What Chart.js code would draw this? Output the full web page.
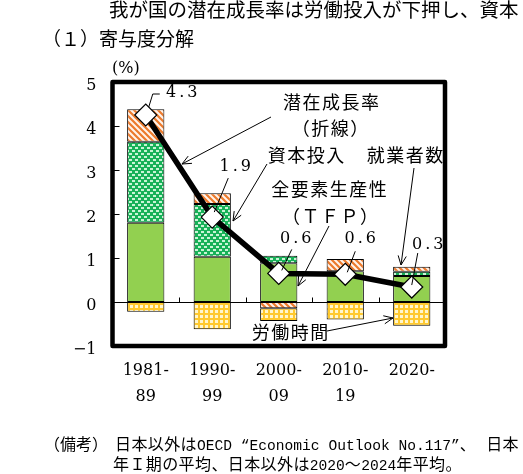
<!DOCTYPE html>
<html><head><meta charset="utf-8">
<script src="https://cdn.jsdelivr.net/npm/chart.js@4.4.1/dist/chart.umd.min.js"></script>
<style>
html,body{margin:0;padding:0;background:#fff;}
#wrap{position:relative;width:523px;height:474px;overflow:hidden;}
#box{position:absolute;left:0;top:0;width:523px;height:474px;}
.t{position:absolute;white-space:nowrap;color:#000;}
.cjk{font-family:"Noto Sans CJK JP";}
.mono{font-family:"Liberation Mono";font-size:14.6px;letter-spacing:0;}
</style></head><body>
<div id="wrap">
<div id="box"><canvas id="cv"></canvas></div>
<div class="t cjk" style="left:109px;top:-1px;font-size:19.5px;line-height:20px;">我が国の潜在成長率は労働投入が下押し、資本</div>
<div class="t cjk" style="left:42px;top:28px;font-size:19px;line-height:20px;">（１）寄与度分解</div>
<div class="t" style="left:112px;top:58px;font-family:'DejaVu Serif';font-size:16px;line-height:20px;">(%)</div>
<div class="t cjk" style="left:44px;top:433px;font-size:16px;line-height:20px;">（備考）</div>
<div class="t cjk" style="left:115px;top:433px;font-size:16px;line-height:20px;letter-spacing:0.4px;">日本以外は<span class="mono">OECD “Economic Outlook No.117”</span>、<span style="margin-left:10px">日本</span></div>
<div class="t cjk" style="left:113px;top:453px;font-size:16px;line-height:20px;letter-spacing:0.4px;">年Ｉ期の平均、日本以外は<span class="mono">2020</span>～<span class="mono">2024</span>年平均。</div>
</div>
<script>
// ---- data ----
const categories = [["1981-","89"],["1990-","99"],["2000-","09"],["2010-","19"],["2020-",""]];
const tfp        = [1.80, 1.03, 0.88, 0.70, 0.59];   // 全要素生産性
const capital    = [1.84, 1.20, 0.17, 0.00, 0.10];   // 資本投入
const employment = [0.74, 0.24, -0.14, 0.28, 0.11];  // 就業者数
const hours      = [-0.22, -0.62, -0.29, -0.40, -0.54]; // 労働時間
const potential  = [4.25, 1.93, 0.65, 0.63, 0.34];   // 潜在成長率
const potentialLabels = ["4.3", "1.9", "0.6", "0.6", "0.3"];
const yTicks = [-1, 0, 1, 2, 3, 4, 5];

// ---- patterns ----
const cv = document.getElementById('cv');
function makePattern(w, h, draw) {
  const c = document.createElement('canvas'); c.width = w; c.height = h;
  const g = c.getContext('2d'); draw(g, w, h);
  return cv.getContext('2d').createPattern(c, 'repeat');
}
const orangeHatch = makePattern(6, 6, (g, w, h) => {
  g.fillStyle = '#FFF3EA'; g.fillRect(0, 0, w, h);
  g.strokeStyle = '#EC7A2C'; g.lineWidth = 2.2; g.beginPath();
  for (const k of [-6, 0, 6]) { g.moveTo(k - 1, -1); g.lineTo(k + 7, 7); }
  g.stroke();
});
const greenDots = makePattern(6, 6, (g, w, h) => {
  g.fillStyle = '#17B158'; g.fillRect(0, 0, w, h);
  g.fillStyle = '#C8F4D5'; g.fillRect(0, 0, 3, 2); g.fillRect(3, 3, 3, 2);
});
const yellowGrid = makePattern(5, 5, (g, w, h) => {
  g.fillStyle = '#FFC92E'; g.fillRect(0, 0, w, h);
  g.fillStyle = '#FFF6CC'; g.fillRect(0, 0, 3, 3);
});

// ---- annotations (layout) ----
const notes = [
  {t: '潜在成長率', x: 331, y: 102},
  {t: '（折線）', x: 330, y: 128},
  {t: '資本投入', x: 306, y: 155},
  {t: '就業者数', x: 405, y: 155},
  {t: '全要素生産性', x: 329, y: 189},
  {t: '（ＴＦＰ）', x: 330, y: 216},
  {t: '労働時間', x: 290, y: 332}
];
const arrows = [
  [[271,117],[182,164]],
  [[267,164],[233,221]],
  [[329,226],[298,286]],
  [[414,168],[401,265]],
  [[327,331],[393,318]]
];
const labelOffsets = [[36,-22],[23,-50],[17,-35],[15,-35],[16,-42]];
const leaders = [
  [[3,-8],[7,-21],[14,-21]],
  [[2,-5],[16,-39]],
  [[3,-3],[13,-24]],
  [[2,-2],[10,-23]],
  [[0,-2],[6,-34]]
];

const decor = {
  id: 'decor',
  beforeDatasetsDraw(chart) {
    const {ctx, chartArea: a, scales: {x, y}} = chart;
    ctx.save(); ctx.strokeStyle = '#000'; ctx.lineWidth = 1;
    const y0 = Math.round(y.getPixelForValue(0)) + 0.5;
    ctx.beginPath();
    ctx.moveTo(a.left, y0); ctx.lineTo(a.right, y0);
    yTicks.forEach(v => {
      if (v > 0 && v < 5) { const py = Math.round(y.getPixelForValue(v)) + 0.5; ctx.moveTo(a.left, py); ctx.lineTo(a.left + 7, py); }
    });
    for (let i = 0; i < categories.length - 1; i++) {
      const xb = Math.round((x.getPixelForValue(i) + x.getPixelForValue(i + 1)) / 2) + 0.5;
      ctx.moveTo(xb, y0); ctx.lineTo(xb, y0 - 5);
    }
    ctx.stroke(); ctx.restore();
  },
  afterDatasetsDraw(chart) {
    const {ctx, chartArea: a} = chart;
    ctx.save(); ctx.strokeStyle = '#000'; ctx.lineWidth = 4.5; ctx.lineJoin = 'round';
    ctx.strokeRect(a.left, a.top, a.right - a.left, a.bottom - a.top);
    ctx.restore();
  },
  afterDraw(chart) {
    const {ctx, scales: {x, y}} = chart;
    ctx.save();
    ctx.fillStyle = '#000'; ctx.strokeStyle = '#000'; ctx.lineWidth = 1;
    arrows.forEach(([p, q]) => {
      ctx.beginPath(); ctx.moveTo(p[0], p[1]); ctx.lineTo(q[0], q[1]);
      const ang = Math.atan2(q[1] - p[1], q[0] - p[0]);
      const L = 10, w = 0.42;
      ctx.moveTo(q[0] - L * Math.cos(ang - w), q[1] - L * Math.sin(ang - w));
      ctx.lineTo(q[0], q[1]);
      ctx.lineTo(q[0] - L * Math.cos(ang + w), q[1] - L * Math.sin(ang + w));
      ctx.stroke();
    });
    ctx.font = '16px "DejaVu Serif"'; ctx.textAlign = 'center'; ctx.textBaseline = 'middle';
    ctx.letterSpacing = '3px';
    potential.forEach((v, i) => {
      const px = x.getPixelForValue(i), py = y.getPixelForValue(v);
      ctx.beginPath();
      leaders[i].forEach((d, k) => { if (k === 0) ctx.moveTo(px + d[0], py + d[1]); else ctx.lineTo(px + d[0], py + d[1]); });
      ctx.stroke();
      ctx.fillText(potentialLabels[i], px + labelOffsets[i][0] + 1.5, py + labelOffsets[i][1]);
    });
    ctx.font = '18px "Noto Sans CJK JP"'; ctx.letterSpacing = '1.5px';
    notes.forEach(n => ctx.fillText(n.t, n.x + 0.75, n.y));
    ctx.restore();
  }
};

const barCommon = {type: 'bar', stack: 'bars', borderColor: '#000', borderWidth: 1, borderSkipped: false,
  barPercentage: 0.56, categoryPercentage: 1.0, order: 1};

new Chart(cv, {
  type: 'bar',
  data: {
    labels: categories,
    datasets: [
      Object.assign({label: '全要素生産性', data: tfp, backgroundColor: '#92D050'}, barCommon),
      Object.assign({label: '資本投入', data: capital, backgroundColor: greenDots}, barCommon),
      Object.assign({label: '就業者数', data: employment, backgroundColor: orangeHatch}, barCommon),
      Object.assign({label: '労働時間', data: hours, backgroundColor: yellowGrid}, barCommon),
      {type: 'line', label: '潜在成長率', data: potential, stack: 'line', order: 0,
       borderColor: '#000', borderWidth: 5.5, pointStyle: 'rectRot', pointRadius: 11,
       pointBackgroundColor: '#fff', pointBorderColor: '#000', pointBorderWidth: 1.2, tension: 0}
    ]
  },
  options: {
    responsive: true, maintainAspectRatio: false, animation: false, events: [],
    layout: {padding: {left: 0, top: 82, right: 78, bottom: 0}},
    plugins: {legend: {display: false}, tooltip: {enabled: false}},
    scales: {
      x: {
        stacked: true, grid: {display: false}, border: {display: false},
        ticks: {color: '#000', font: {family: 'DejaVu Serif', size: 16, lineHeight: 1.6}, padding: 4,
                maxRotation: 0, autoSkip: false},
        afterFit(s) { s.height = 128; }
      },
      y: {
        stacked: true, min: -1, max: 5,
        grid: {display: false, drawTicks: false}, border: {display: false},
        ticks: {stepSize: 1, color: '#000', padding: 16, labelOffset: 4,
                font: {family: 'DejaVu Serif', size: 16},
                callback: v => (v < 0 ? '−' + Math.abs(v) : String(v))},
        afterFit(s) { s.width = 112.5; }
      }
    }
  },
  plugins: [decor]
});
</script>
</body></html>
